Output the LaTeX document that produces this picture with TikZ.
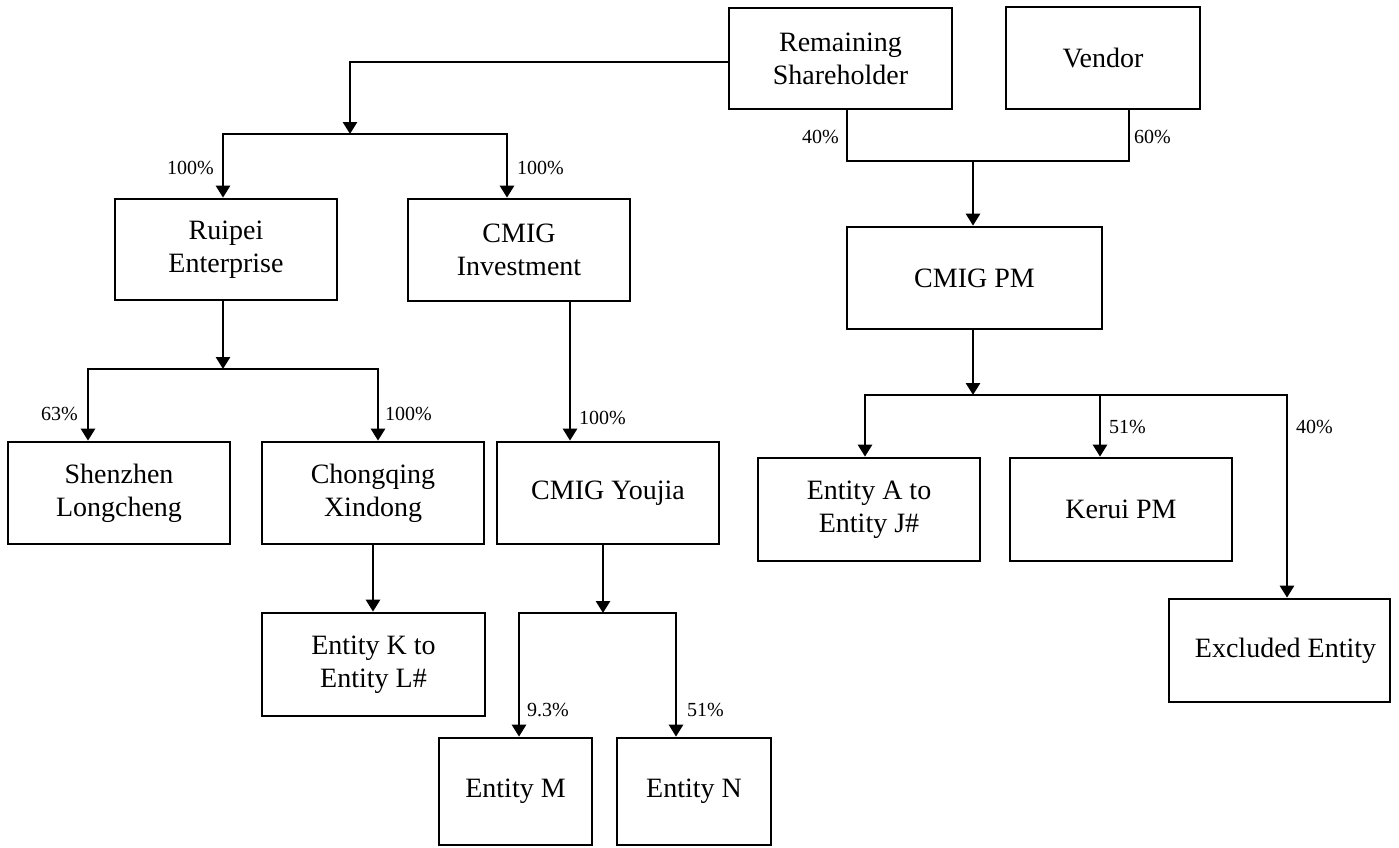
\documentclass[tikz,border=0pt]{standalone}
\usepackage{fontspec}
\setmainfont{Liberation Serif}
\usetikzlibrary{arrows.meta}
\begin{document}
\begin{tikzpicture}[x=1pt,y=-1pt,
  box/.style={draw, line width=2.7pt, rectangle, align=center, inner sep=0pt, font=\fontsize{28}{33}\selectfont},
  conn/.style={line width=2.7pt},
  arr/.style={conn, -{Triangle[width=14pt,length=12pt]}},
  pct/.style={inner sep=0pt, font=\fontsize{20}{22}\selectfont}]
\useasboundingbox (0,0) rectangle (1399,847);

% boxes
\node[box, minimum width=223pt, minimum height=101pt] (rem) at (840.5,58.5) {Remaining\\Shareholder};
\node[box, minimum width=194pt, minimum height=102pt] (vendor) at (1103,58) {Vendor};
\node[box, minimum width=255pt, minimum height=102pt] (cmigpm) at (974.5,278) {CMIG PM};
\node[box, minimum width=222pt, minimum height=101pt] (ruipei) at (226,249.5) {Ruipei\\Enterprise};
\node[box, minimum width=222pt, minimum height=102pt] (cmiginv) at (519,250) {CMIG\\Investment};
\node[box, minimum width=222pt, minimum height=102pt] (shenzhen) at (119,493) {Shenzhen\\Longcheng};
\node[box, minimum width=222pt, minimum height=102pt] (chongqing) at (373,493) {Chongqing\\Xindong};
\node[box, minimum width=222pt, minimum height=102pt] (youjia) at (608,493) {CMIG Youjia};
\node[box, minimum width=223pt, minimum height=103pt] (entK) at (373.5,664.5) {Entity K to\\Entity L\#};
\node[box, minimum width=153pt, minimum height=107pt] (entM) at (515.5,791.5) {Entity M};
\node[box, minimum width=154pt, minimum height=107pt] (entN) at (694,791.5) {Entity N};
\node[box, minimum width=222pt, minimum height=103pt] (entA) at (869,509.5) {Entity A to\\Entity J\#};
\node[box, minimum width=222pt, minimum height=103pt] (kerui) at (1121,509.5) {Kerui PM};
\node[box, minimum width=221pt, minimum height=103pt] (excl) at (1279.5,650.5) {\hspace*{12pt}Excluded Entity};

% junctions
\coordinate (j1) at (350,134);
\coordinate (j2) at (223,369);
\coordinate (j3) at (603,613);
\coordinate (j4) at (973,161);
\coordinate (j5) at (973,395);

% remaining shareholder -> ruipei / cmig investment
\draw[arr] ([yshift=-3.5pt]rem.west) -| (j1);
\draw[arr] (j1) -| ([xshift=-3pt]ruipei.north);
\draw[arr] (j1) -| ([xshift=-12pt]cmiginv.north);

% ruipei -> shenzhen / chongqing
\draw[arr] ([xshift=-3pt]ruipei.south) -- (j2);
\draw[arr] (j2) -| ([xshift=-31pt]shenzhen.north);
\draw[arr] (j2) -| ([xshift=5pt]chongqing.north);

% cmig investment -> youjia
\draw[arr] ([xshift=51pt]cmiginv.south) -- ([xshift=-38pt]youjia.north);

% chongqing -> entity K
\draw[arr] (chongqing.south) -- (chongqing.south |- entK.north);

% youjia -> entity M / N
\draw[arr] ([xshift=-5pt]youjia.south) -- (j3);
\draw[arr] (j3) -| ([xshift=3.5pt]entM.north);
\draw[arr] (j3) -| ([xshift=-18pt]entN.north);

% remaining + vendor -> cmig pm
\draw[conn] ([xshift=6.5pt]rem.south) |- (j4) -| ([xshift=26pt]vendor.south);
\draw[arr] (j4) -- (j4 |- cmigpm.north);

% cmig pm -> entities
\draw[arr] (j4 |- cmigpm.south) -- (j5);
\draw[arr] (j5) -| ([xshift=-4pt]entA.north);
\draw[arr] (j5) -| ([xshift=-21pt]kerui.north);
\draw[arr] (j5) -| ([xshift=7.5pt]excl.north);

% labels
\node[pct, anchor=east] (l1) at (214,168) {100\%};
\node[pct, anchor=west] (l2) at (517,168) {100\%};
\node[pct, anchor=east] (l3) at (839,137) {40\%};
\node[pct, anchor=west] (l4) at (1134,137) {60\%};
\node[pct, anchor=east] (l5) at (78,414) {63\%};
\node[pct, anchor=west] (l6) at (385,414) {100\%};
\node[pct, anchor=west] (l7) at (579,418) {100\%};
\node[pct, anchor=west] (l8) at (527,710) {9.3\%};
\node[pct, anchor=west] (l9) at (687,710) {51\%};
\node[pct, anchor=west] (l10) at (1109,427) {51\%};
\node[pct, anchor=west] (l11) at (1296,427) {40\%};
\end{tikzpicture}
\end{document}
